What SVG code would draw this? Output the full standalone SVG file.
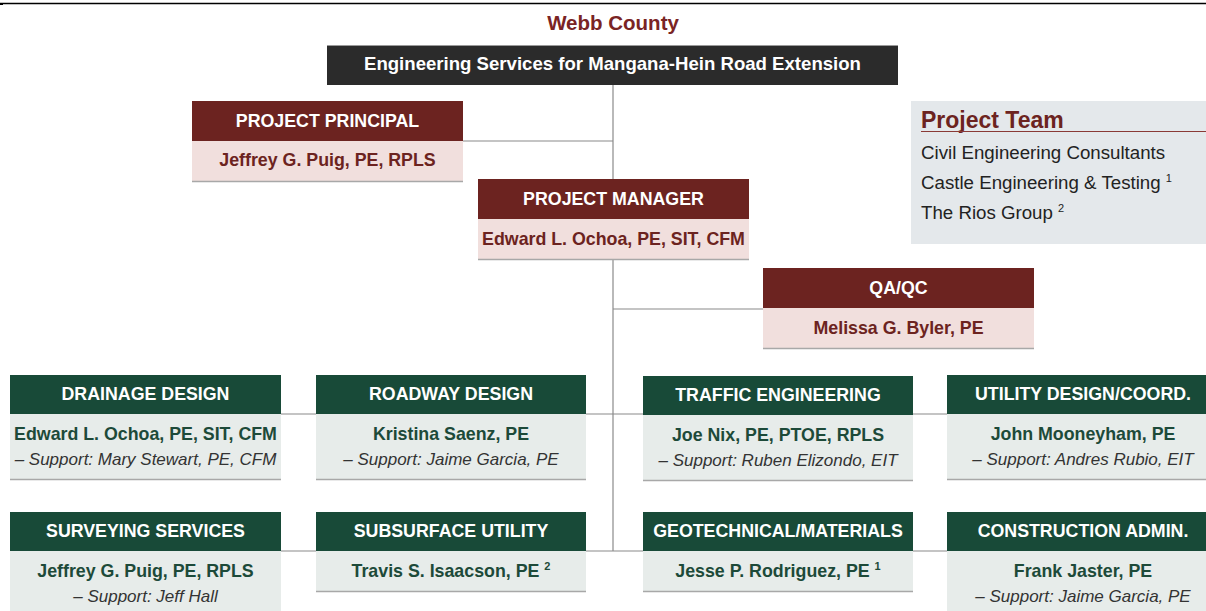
<svg xmlns="http://www.w3.org/2000/svg" width="1206" height="611" viewBox="0 0 1206 611">
<style>
.bg{fill:#ffffff}
.mh{fill:#6c2320}
.mb{fill:#f1dfdd}
.gh{fill:#184a38}
.gb{fill:#e7ecea}
.bot{stroke:#a8a8a8;stroke-width:1.5}
.conn{stroke:#8a8a8a;stroke-width:1.2;fill:none}
.ht{font-family:"Liberation Sans",Arial,sans-serif;font-weight:bold;font-size:17.8px;fill:#ffffff;text-anchor:middle}
.mn{font-family:"Liberation Sans",Arial,sans-serif;font-weight:bold;font-size:17.8px;fill:#6c2320;text-anchor:middle}
.gn{font-family:"Liberation Sans",Arial,sans-serif;font-weight:bold;font-size:17.8px;fill:#1d4a39;text-anchor:middle}
.sp{font-family:"Liberation Sans",Arial,sans-serif;font-style:italic;font-size:17px;fill:#333333;text-anchor:middle}
.pt{font-family:"Liberation Sans",Arial,sans-serif;font-size:18.7px;fill:#222222}
.sup{font-size:11px}
</style>
<rect class="bg" x="0" y="0" width="1206" height="611"/>
<line x1="0" y1="3.5" x2="1206" y2="3.5" stroke="#000" stroke-width="1.5"/>
<rect x="0" y="3" width="3" height="2" fill="#000"/>
<text x="613" y="30" font-family="Liberation Sans,Arial,sans-serif" font-weight="bold" font-size="20.5px" fill="#7a2424" text-anchor="middle">Webb County</text>

<g id="connectors">
<line class="conn" x1="613" y1="85" x2="613" y2="551"/>
<line class="conn" x1="463" y1="141" x2="613" y2="141"/>
<line class="conn" x1="613" y1="309" x2="763" y2="309"/>
<line class="conn" x1="281" y1="414" x2="947" y2="414"/>
<line class="conn" x1="281" y1="551" x2="947" y2="551"/>
</g>

<g id="title">
<rect x="327" y="45" width="571" height="40" fill="#2b2b2b"/>
<line x1="327" y1="45.5" x2="898" y2="45.5" stroke="#9a9a9a" stroke-width="1"/>
<text class="ht" x="612.5" y="70" style="font-size:18.6px">Engineering Services for Mangana-Hein Road Extension</text>
</g>

<g id="project-principal">
<rect class="mh" x="192" y="101" width="271" height="40"/>
<rect class="mb" x="192" y="141" width="271" height="41"/>
<line class="bot" x1="192" y1="181.5" x2="463" y2="181.5"/>
<text class="ht" x="327.5" y="127">PROJECT PRINCIPAL</text>
<text class="mn" x="327.5" y="166">Jeffrey G. Puig, PE, RPLS</text>
</g>

<g id="project-manager">
<rect class="mh" x="478" y="179" width="271" height="40"/>
<rect class="mb" x="478" y="219" width="271" height="41"/>
<line class="bot" x1="478" y1="259.5" x2="749" y2="259.5"/>
<text class="ht" x="613.5" y="205">PROJECT MANAGER</text>
<text class="mn" x="613.5" y="245">Edward L. Ochoa, PE, SIT, CFM</text>
</g>

<g id="qaqc">
<rect class="mh" x="763" y="268" width="271" height="40"/>
<rect class="mb" x="763" y="308" width="271" height="41"/>
<line class="bot" x1="763" y1="348.5" x2="1034" y2="348.5"/>
<text class="ht" x="898.5" y="294">QA/QC</text>
<text class="mn" x="898.5" y="334">Melissa G. Byler, PE</text>
</g>

<g id="project-team">
<rect x="911" y="101" width="295" height="143" fill="#e4e8eb"/>
<text x="921" y="128" font-family="Liberation Sans,Arial,sans-serif" font-weight="bold" font-size="23px" fill="#6c2320">Project Team</text>
<line x1="921" y1="131.5" x2="1206" y2="131.5" stroke="#8a3a36" stroke-width="1.2"/>
<text class="pt" x="921" y="159">Civil Engineering Consultants</text>
<text class="pt" x="921" y="189">Castle Engineering &amp; Testing <tspan class="sup" dy="-7">1</tspan></text>
<text class="pt" x="921" y="219">The Rios Group <tspan class="sup" dy="-7">2</tspan></text>
</g>

<g id="drainage-design">
<rect class="gh" x="10" y="375" width="271" height="39"/>
<rect class="gb" x="10" y="414" width="271" height="66"/>
<line class="bot" x1="10" y1="479.5" x2="281" y2="479.5"/>
<text class="ht" x="145.5" y="400">DRAINAGE DESIGN</text>
<text class="gn" x="145.5" y="440">Edward L. Ochoa, PE, SIT, CFM</text>
<text class="sp" x="145.5" y="465">– Support: Mary Stewart, PE, CFM</text>
</g>

<g id="roadway-design">
<rect class="gh" x="316" y="375" width="270" height="39"/>
<rect class="gb" x="316" y="414" width="270" height="66"/>
<line class="bot" x1="316" y1="479.5" x2="586" y2="479.5"/>
<text class="ht" x="451" y="400">ROADWAY DESIGN</text>
<text class="gn" x="451" y="440">Kristina Saenz, PE</text>
<text class="sp" x="451" y="465">– Support: Jaime Garcia, PE</text>
</g>

<g id="traffic-engineering">
<rect class="gh" x="643" y="376" width="270" height="39"/>
<rect class="gb" x="643" y="415" width="270" height="66"/>
<line class="bot" x1="643" y1="480.5" x2="913" y2="480.5"/>
<text class="ht" x="778" y="401">TRAFFIC ENGINEERING</text>
<text class="gn" x="778" y="441">Joe Nix, PE, PTOE, RPLS</text>
<text class="sp" x="778" y="466">– Support: Ruben Elizondo, EIT</text>
</g>

<g id="utility-design">
<rect class="gh" x="947" y="375" width="259" height="39"/>
<rect class="gb" x="947" y="414" width="259" height="66"/>
<line class="bot" x1="947" y1="479.5" x2="1206" y2="479.5"/>
<text class="ht" x="1083" y="400">UTILITY DESIGN/COORD.</text>
<text class="gn" x="1083" y="440">John Mooneyham, PE</text>
<text class="sp" x="1083" y="465">– Support: Andres Rubio, EIT</text>
</g>

<g id="surveying-services">
<rect class="gh" x="10" y="512" width="271" height="39"/>
<rect class="gb" x="10" y="551" width="271" height="60"/>
<text class="ht" x="145.5" y="537">SURVEYING SERVICES</text>
<text class="gn" x="145.5" y="577">Jeffrey G. Puig, PE, RPLS</text>
<text class="sp" x="145.5" y="602">– Support: Jeff Hall</text>
</g>

<g id="subsurface-utility">
<rect class="gh" x="316" y="512" width="270" height="39"/>
<rect class="gb" x="316" y="551" width="270" height="41"/>
<line class="bot" x1="316" y1="591.5" x2="586" y2="591.5"/>
<text class="ht" x="451" y="537">SUBSURFACE UTILITY</text>
<text class="gn" x="451" y="577">Travis S. Isaacson, PE <tspan class="sup" dy="-7">2</tspan></text>
</g>

<g id="geotechnical">
<rect class="gh" x="643" y="512" width="270" height="39"/>
<rect class="gb" x="643" y="551" width="270" height="41"/>
<line class="bot" x1="643" y1="591.5" x2="913" y2="591.5"/>
<text class="ht" x="778" y="537">GEOTECHNICAL/MATERIALS</text>
<text class="gn" x="778" y="577">Jesse P. Rodriguez, PE <tspan class="sup" dy="-7">1</tspan></text>
</g>

<g id="construction-admin">
<rect class="gh" x="947" y="512" width="259" height="39"/>
<rect class="gb" x="947" y="551" width="259" height="60"/>
<text class="ht" x="1083" y="537">CONSTRUCTION ADMIN.</text>
<text class="gn" x="1083" y="577">Frank Jaster, PE</text>
<text class="sp" x="1083" y="602">– Support: Jaime Garcia, PE</text>
</g>
</svg>
